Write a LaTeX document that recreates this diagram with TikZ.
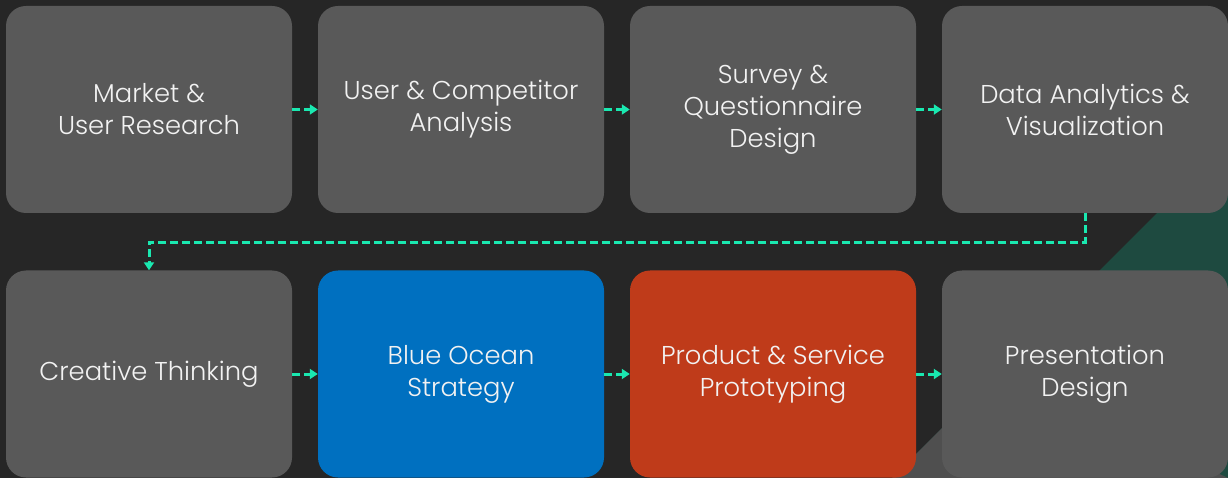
\documentclass[tikz,border=0pt]{standalone}
\usepackage{fontspec}
\setmainfont{Poppins}[UprightFont=* Light]
\usetikzlibrary{arrows.meta}

\definecolor{bgdark}{HTML}{262626}
\definecolor{boxgray}{HTML}{595959}
\definecolor{boxtext}{HTML}{F2F2F2}
\definecolor{oceanblue}{HTML}{0070C0}
\definecolor{protored}{HTML}{BF3B1A}
\definecolor{flow}{HTML}{1AE8B0}
\definecolor{deepgreen}{HTML}{1E4A40}
\definecolor{shadegray}{HTML}{4F4F4F}

\begin{document}
\begin{tikzpicture}[x=1pt, y=-1pt,
    box/.style={rounded corners=20pt, fill=boxgray, text=boxtext, minimum width=286pt, minimum height=207pt, inner sep=0pt, align=center, font=\fontsize{25.8}{32}\selectfont},
    arr/.style={-{Triangle[length=8pt,width=10pt]}, dash pattern=on 8pt off 4pt, line width=3pt, draw=flow}]
    \useasboundingbox (0,0) rectangle (1228,478);
    \fill[bgdark] (0,0) rectangle (1228,478);
    \fill[deepgreen] (892,478) -- (1228,142) -- (1228,478) -- cycle;
    \fill[shadegray] (892,478) -- (1000,370) -- (1228,478) -- cycle;

    % first row
    \node[box] (market) at (149,109.5) {Market \&\\User Research};
    \node[box] (user) at (461,109.5) {User \& Competitor\\Analysis};
    \node[box] (survey) at (773,109.5) {Survey \&\\Questionnaire\\Design};
    \node[box] (data) at (1085,109.5) {Data Analytics \&\\Visualization};

    % second row
    \node[box] (creative) at (149,374) {Creative Thinking};
    \node[box, fill=oceanblue] (ocean) at (461,374) {Blue Ocean\\Strategy};
    \node[box, fill=protored] (proto) at (773,374) {Product \& Service\\Prototyping};
    \node[box] (present) at (1085,374) {Presentation\\Design};

    \draw[arr] (market.east) -- (user.west);
    \draw[arr] (user.east) -- (survey.west);
    \draw[arr] (survey.east) -- (data.west);
    \draw[arr] (data.south) -- ++(0,29) -| (creative.north);
    \draw[arr] (creative.east) -- (ocean.west);
    \draw[arr] (ocean.east) -- (proto.west);
    \draw[arr] (proto.east) -- (present.west);

\end{tikzpicture}
\end{document}
